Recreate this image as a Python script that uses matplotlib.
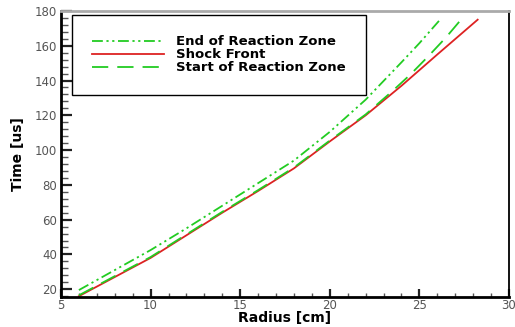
import matplotlib
matplotlib.use("Agg")
import matplotlib.pyplot as plt
from matplotlib.ticker import MultipleLocator

# Shock front trajectory
shock_r = [6.0, 8.0, 10.0, 12.0, 14.0, 16.0, 18.0, 20.0, 22.0, 24.0, 26.0, 28.25]
shock_t = [16.0, 27.0, 38.0, 51.0, 64.0, 76.5, 89.5, 105.0, 120.0, 137.0, 155.0, 175.0]

# Start of reaction zone
start_r = [6.0, 8.0, 10.0, 12.0, 14.0, 16.0, 18.0, 20.0, 22.0, 23.5, 24.5, 25.5, 26.5, 27.27]
start_t = [16.5, 27.5, 38.5, 51.5, 64.5, 77.0, 90.0, 105.5, 120.5, 134.0, 143.5, 154.0, 165.0, 174.4]

# End of reaction zone
end_r = [6.0, 8.0, 10.0, 12.0, 14.0, 16.0, 18.0, 20.0, 22.0, 24.0, 25.0, 26.1]
end_t = [19.5, 31.0, 42.5, 55.0, 68.0, 81.0, 94.0, 110.5, 129.0, 150.5, 161.5, 174.4]

labels = ["End of Reaction Zone", "Shock Front", "Start of Reaction Zone"]

fig = plt.figure(figsize=(5.15, 3.27), dpi=100)
ax = fig.add_axes([0.1184, 0.0927, 0.870, 0.8737])

green = "#22cc22"
red = "#dd2222"

l_end, = ax.plot(end_r, end_t, color=green, lw=1.3, dashes=(6, 2, 1.2, 2, 1.2, 2))
l_shock, = ax.plot(shock_r, shock_t, color=red, lw=1.3)
l_start, = ax.plot(start_r, start_t, color=green, lw=1.3, dashes=(9, 5))

ax.set_xlim(5, 30)
ax.set_ylim(15.7, 180)
ax.xaxis.set_major_locator(MultipleLocator(5))
ax.xaxis.set_minor_locator(MultipleLocator(1))
ax.yaxis.set_major_locator(MultipleLocator(20))
ax.yaxis.set_minor_locator(MultipleLocator(4))

ax.tick_params(axis="y", which="major", direction="in", length=8, width=1.6, color="#222222",
               labelsize=8.5, labelcolor="#555555", pad=3)
ax.tick_params(axis="y", which="minor", direction="in", length=5, width=1.0, color="#555555")
ax.tick_params(axis="x", which="major", direction="in", length=5.5, width=1.6, color="#222222",
               labelsize=8.5, labelcolor="#555555", pad=2)
ax.tick_params(axis="x", which="minor", direction="in", length=3, width=1.0, color="#555555")

for lab in ax.get_xticklabels() + ax.get_yticklabels():
    lab.set_family("DejaVu Sans")

ax.spines["left"].set_linewidth(2.0)
ax.spines["bottom"].set_linewidth(2.0)
ax.spines["right"].set_linewidth(1.3)
ax.spines["top"].set_linewidth(2.0)
ax.spines["top"].set_color("#aaaaaa")

ax.set_xlabel("Radius [cm]", fontsize=10, fontweight="bold", family="DejaVu Sans", labelpad=-1)
ax.set_ylabel("Time [us]", fontsize=10, fontweight="bold", family="DejaVu Sans", labelpad=7)

leg = ax.legend([l_end, l_shock, l_start], labels, loc="upper left",
                bbox_to_anchor=(0.0246, 0.986), fancybox=False, framealpha=1,
                edgecolor="black", borderpad=1.55, handlelength=5.4, handletextpad=0.9,
                labelspacing=0.0, borderaxespad=0,
                prop={"family": "DejaVu Sans", "weight": "bold", "size": 9.5})
leg.get_frame().set_linewidth(1.0)

fig.savefig("out.png", dpi=100)
